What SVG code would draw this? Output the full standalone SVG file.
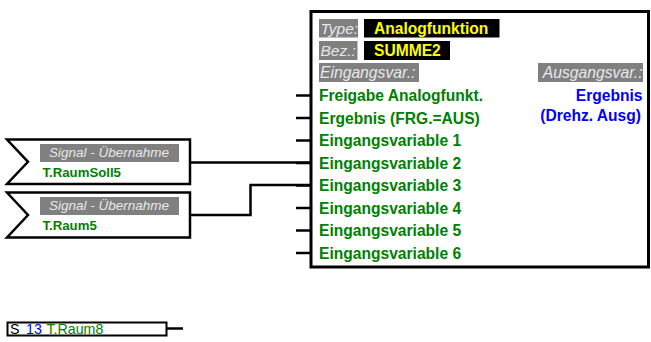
<svg xmlns="http://www.w3.org/2000/svg" width="651" height="342" viewBox="0 0 651 342">
<style>
.ln{stroke:#000;stroke-width:2.5;fill:none}
.box{stroke:#000;stroke-width:3;fill:#fff}
.flag{stroke:#000;stroke-width:2.5;fill:#fff}
.gl{fill:#808080}
.gt{font-family:"Liberation Sans",Arial,sans-serif;font-style:italic;fill:#e8e8e8}
.yt{font-family:"Liberation Sans",Arial,sans-serif;font-weight:bold;fill:#ffff00;font-size:15.6px}
.gr{font-family:"Liberation Sans",Arial,sans-serif;font-weight:bold;fill:#008000;font-size:15.6px}
.bl{font-family:"Liberation Sans",Arial,sans-serif;font-weight:bold;fill:#0000ff;font-size:15.6px;text-anchor:end}
.sg{font-family:"Liberation Sans",Arial,sans-serif;font-weight:bold;fill:#008000;font-size:13.2px}
.rt{font-family:"Liberation Sans",Arial,sans-serif;font-size:14.2px}
</style>
<rect width="651" height="342" fill="#fff"/>
<g id="connectors">
<path class="ln" d="M190,162.5 H311"/>
<path class="ln" d="M190,215 H250.5 V185 H311"/>
</g>
<g id="summe2">
<g class="ln">
<path d="M296,95.5 H311"/>
<path d="M296,118 H311"/>
<path d="M296,140.5 H311"/>
<path d="M296,163 H311"/>
<path d="M296,185.5 H311"/>
<path d="M296,208 H311"/>
<path d="M296,230.5 H311"/>
<path d="M296,253 H311"/>
</g>
<rect class="box" x="311" y="11.5" width="337.5" height="255.5"/>
<rect class="gl" x="319" y="19" width="39" height="18.5"/>
<text class="gt" x="320.5" y="34" font-size="15.5px">Type:</text>
<rect x="364" y="19" width="135.5" height="18.5" fill="#000"/>
<text class="yt" x="374" y="34">Analogfunktion</text>
<rect class="gl" x="319" y="41" width="38.5" height="19"/>
<text class="gt" x="320.5" y="56" font-size="15.5px">Bez.:</text>
<rect x="364" y="41" width="86" height="19" fill="#000"/>
<text class="yt" x="374" y="56">SUMME2</text>
<rect class="gl" x="319" y="63" width="100" height="19"/>
<text class="gt" x="320" y="78" font-size="15.7px">Eingangsvar.:</text>
<rect class="gl" x="538" y="63" width="105" height="19"/>
<text class="gt" x="642.5" y="78" font-size="15.7px" text-anchor="end">Ausgangsvar.:</text>
<text class="gr" x="319" y="101">Freigabe Analogfunkt.</text>
<text class="gr" x="319" y="123.5">Ergebnis (FRG.=AUS)</text>
<text class="gr" x="319" y="146">Eingangsvariable 1</text>
<text class="gr" x="319" y="168.5">Eingangsvariable 2</text>
<text class="gr" x="319" y="191">Eingangsvariable 3</text>
<text class="gr" x="319" y="213.5">Eingangsvariable 4</text>
<text class="gr" x="319" y="236">Eingangsvariable 5</text>
<text class="gr" x="319" y="258.5">Eingangsvariable 6</text>
<text class="bl" x="642.5" y="101">Ergebnis</text>
<text class="bl" x="641" y="120.5">(Drehz. Ausg)</text>
</g>
<g id="signal1">
<polygon class="flag" points="7,139.5 190,139.5 190,184 7,184 28,161.8"/>
<rect class="gl" x="40" y="144" width="139" height="18"/>
<text class="gt" x="49" y="157" font-size="13.5px">Signal - Übernahme</text>
<text class="sg" x="42.5" y="176.5">T.RaumSoll5</text>
</g>
<g id="signal2">
<polygon class="flag" points="7,192.5 190,192.5 190,237.5 7,237.5 28,215"/>
<rect class="gl" x="40" y="197" width="139" height="18"/>
<text class="gt" x="49" y="210" font-size="13.5px">Signal - Übernahme</text>
<text class="sg" x="42.5" y="229.5">T.Raum5</text>
</g>
<g id="raum8">
<path class="ln" d="M167,328.5 H183"/>
<rect x="7.5" y="322.5" width="159" height="13" fill="#fff" stroke="#000" stroke-width="2"/>
<text class="rt" x="10" y="334" fill="#000">S</text>
<text class="rt" x="26" y="334" fill="#0000ff">13</text>
<text class="rt" x="46.5" y="334" fill="#008000">T.Raum8</text>
</g>
</svg>
